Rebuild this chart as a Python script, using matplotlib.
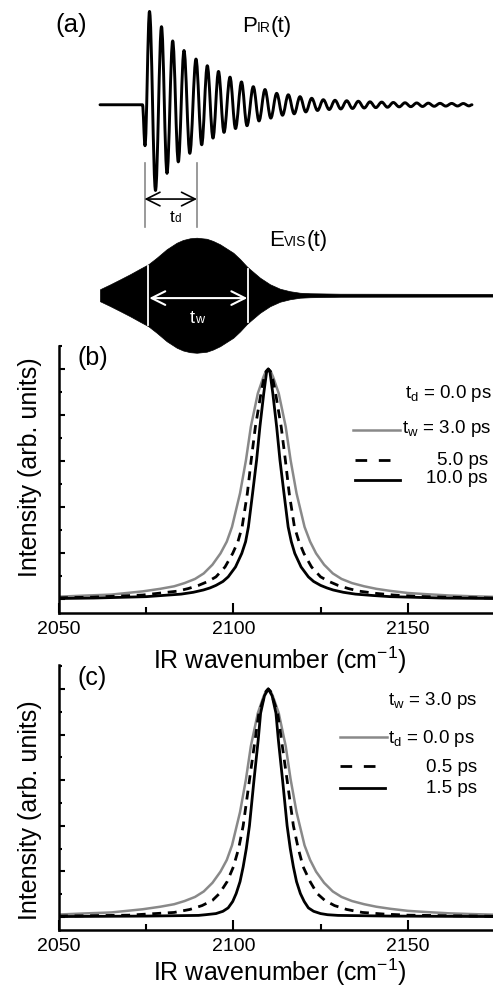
import numpy as np
import matplotlib
matplotlib.use('Agg')
import matplotlib.pyplot as plt
from matplotlib.ticker import MultipleLocator, FixedLocator
from matplotlib.lines import Line2D
from matplotlib.path import Path
from matplotlib.patches import PathPatch
from matplotlib.offsetbox import TextArea, HPacker, AnnotationBbox

plt.rcParams['font.family'] = ['Liberation Sans', 'DejaVu Sans']
plt.rcParams['mathtext.fontset'] = 'custom'
plt.rcParams['mathtext.rm'] = 'Liberation Sans'
plt.rcParams['mathtext.it'] = 'Liberation Sans:italic'

# ---- panel (a): schematic pulses (arbitrary time / amplitude units) ----
# IR free induction decay, read at its turning points
ir_t = [0.0, 4.25, 4.5, 4.95, 5.55, 6.15, 6.7, 7.27, 7.83, 8.4, 8.98, 9.6, 10.17,
        10.73, 11.3, 11.85, 12.4, 13.0, 13.55, 14.15, 14.7, 15.33, 15.9, 16.5,
        17.08, 17.67, 18.25, 18.83, 19.42, 20.0, 20.58, 21.17, 21.75, 22.33,
        22.92, 23.5, 24.08, 24.67, 25.25, 25.83, 26.42, 27.0, 27.58, 28.17,
        28.75, 29.33, 29.92, 30.5, 31.08, 31.67, 32.25, 32.83, 33.42, 34.0,
        34.58, 35.17, 35.75, 36.33, 36.9, 37.2]
ir_amp = [0.0, 0.0, -0.43, 0.98, -0.90, 0.82, -0.72, 0.67, -0.60, 0.57, -0.51, 0.48,
          -0.42, 0.41, -0.35, 0.35, -0.29, 0.29, -0.25, 0.24, -0.22, 0.19, -0.17,
          0.16, -0.14, 0.12, -0.11, 0.105, -0.095, 0.085, -0.075, 0.068, -0.06,
          0.053, -0.05, 0.047, -0.044, 0.042, -0.039, 0.037, -0.034, 0.031,
          -0.03, 0.028, -0.026, 0.024, -0.022, 0.021, -0.02, 0.019, -0.018,
          0.017, -0.016, 0.015, -0.014, 0.014, -0.013, 0.013, -0.012, 0.0]

# visible upconversion pulse envelope (half height)
vis_t = [0, 1, 2, 3, 4, 4.83, 5.67, 6.67, 7.67, 8.3, 9.0, 9.67, 10.67, 11.3, 12.0,
         13.33, 14.0, 14.67, 15.0, 16.0, 17.0, 18.0, 19.0, 20.0, 21.0, 24.0, 39.3]
vis_half = [0.063, 0.113, 0.166, 0.22, 0.278, 0.325, 0.394, 0.483, 0.551, 0.58,
            0.598, 0.604, 0.593, 0.57, 0.535, 0.446, 0.38, 0.304, 0.273, 0.184,
            0.115, 0.068, 0.042, 0.026, 0.021, 0.016, 0.014]
vis_center = -2.0

tw_mark_t = [4.83, 14.83]
tw_mark_half = [0.31, 0.28]
td_mark_t = [4.45, 9.7]

# ---- panel (b): t_d = 0.0 ps, varying t_w ----
wn_tw3 = [2050, 2058, 2065, 2074, 2079, 2083, 2086, 2089, 2091.5, 2094, 2096.3,
          2098.1, 2099.6, 2101.9, 2103.6, 2105.0, 2107.0, 2108.6, 2109.3, 2110,
          2110.7, 2111.4, 2113.0, 2115.0, 2116.4, 2118.1, 2120.4, 2122, 2123.7,
          2126, 2128.5, 2131, 2134, 2137.5, 2141, 2145, 2150, 2155, 2162, 2168, 2175]
int_tw3 = [0.011, 0.016, 0.02, 0.034, 0.045, 0.056, 0.07, 0.088, 0.112, 0.15,
           0.199, 0.25, 0.314, 0.46, 0.604, 0.749, 0.894, 0.965, 0.99, 1.0,
           0.99, 0.965, 0.894, 0.749, 0.604, 0.46, 0.314, 0.25, 0.199,
           0.15, 0.112, 0.088, 0.07, 0.056, 0.045, 0.036, 0.027, 0.022, 0.016,
           0.013, 0.01]

wn_tw5 = [2050, 2060, 2074, 2084, 2087, 2090, 2092.7, 2095, 2097.6, 2099.8, 2101.3,
          2102.5, 2104.0, 2105.1, 2106.3, 2107.9, 2108.9, 2109.4, 2110, 2110.6,
          2111.1, 2112.1, 2113.7, 2114.9, 2116.0, 2117.5, 2118.8, 2120.2, 2122.4,
          2125, 2127.4, 2130, 2133, 2136, 2141, 2146, 2153, 2160, 2175]
int_tw5 = [0.006, 0.009, 0.018, 0.035, 0.046, 0.06, 0.077, 0.097, 0.14, 0.199,
           0.25, 0.314, 0.46, 0.604, 0.749, 0.894, 0.97, 0.99, 1.0, 0.99, 0.97,
           0.894, 0.749, 0.604, 0.46, 0.314, 0.25, 0.199, 0.14, 0.097, 0.077,
           0.06, 0.046, 0.035, 0.025, 0.018, 0.012, 0.009, 0.005]

wn_tw10 = [2050, 2060, 2075, 2085, 2088.5, 2091.4, 2093.3, 2095, 2097, 2098.5,
           2100.6, 2102.4, 2103.5, 2104.3, 2105.5, 2106.65, 2107.6, 2108.7, 2109.5,
           2110, 2110.5, 2111.3, 2112.4, 2113.35, 2114.5, 2115.7, 2116.6, 2117.6,
           2119.4, 2121.5, 2123, 2125, 2126.8, 2128.6, 2131.5, 2135, 2140, 2145,
           2160, 2175]
int_tw10 = [0.003, 0.005, 0.011, 0.022, 0.03, 0.04, 0.049, 0.06, 0.077, 0.097,
            0.14, 0.199, 0.25, 0.314, 0.46, 0.604, 0.749, 0.894, 0.985, 1.0,
            0.985, 0.894, 0.749, 0.604, 0.46, 0.314, 0.25, 0.199, 0.14, 0.097,
            0.077, 0.06, 0.049, 0.04, 0.03, 0.022, 0.016, 0.011, 0.005, 0.003]

# ---- panel (c): t_w = 3.0 ps, varying t_d (t_d = 0.0 is the t_w = 3.0 curve) ----
wn_td05 = [2050, 2070, 2083, 2087.5, 2091, 2094, 2096, 2098.2, 2100, 2101.5,
           2102.8, 2104.6, 2106.2, 2107.3, 2108.8, 2109.4, 2110, 2110.6, 2111.2,
           2112.7, 2113.8, 2115.4, 2117.2, 2118.6, 2120, 2122, 2124, 2126.2,
           2129, 2132.5, 2137, 2143, 2150, 2175]
int_td05 = [0.004, 0.008, 0.02, 0.033, 0.05, 0.073, 0.103, 0.155, 0.22, 0.3, 0.4,
            0.6, 0.775, 0.894, 0.965, 0.99, 1.0, 0.99, 0.965, 0.894, 0.775, 0.6,
            0.4, 0.3, 0.22, 0.155, 0.103, 0.073, 0.05, 0.033, 0.02, 0.013,
            0.008, 0.003]

wn_td15 = [2050, 2075, 2090, 2092, 2095, 2097, 2098.5, 2099.8, 2100.8, 2101.9,
           2102.8, 2103.7, 2104.6, 2105.9, 2107.1, 2107.8, 2108.9, 2110, 2111.1,
           2112.2, 2112.9, 2114.1, 2115.4, 2116.3, 2117.2, 2118.1, 2119.2, 2120.3,
           2121.5, 2123, 2125, 2127, 2130, 2145, 2175]
int_td15 = [0.002, 0.004, 0.007, 0.01, 0.015, 0.025, 0.04, 0.068, 0.103, 0.155,
            0.22, 0.3, 0.4, 0.6, 0.775, 0.894, 0.97, 1.0, 0.97, 0.894, 0.775,
            0.6, 0.4, 0.3, 0.22, 0.155, 0.103, 0.068, 0.04, 0.025, 0.015, 0.01,
            0.007, 0.004, 0.002]

xticks_major = [2050, 2100, 2150]
xticks_minor = [2075, 2125]

GRAY = '#898989'
W, H = 493, 988
fig = plt.figure(figsize=(W / 100, H / 100), dpi=100)


def fx(px):
    return px / W


def fy(py):
    return 1 - py / H


def rich(ax, x, y, parts, color='black', align=(0, 0.5)):
    boxes = [TextArea(s, textprops=dict(fontsize=fs, color=color)) for s, fs in parts]
    pack = HPacker(children=boxes, align='baseline', pad=0, sep=0)
    ab = AnnotationBbox(pack, (x, y), xycoords='data', frameon=False,
                        box_alignment=align, pad=0, annotation_clip=False)
    ax.add_artist(ab)


def smooth_path(ts, ys):
    # turning points joined by cubic Beziers with flat tangents at each point
    verts = [(ts[0], ys[0])]
    codes = [Path.MOVETO]
    for i in range(1, len(ts)):
        k = 0.36 * (ts[i] - ts[i - 1])
        verts += [(ts[i - 1] + k, ys[i - 1]), (ts[i] - k, ys[i]), (ts[i], ys[i])]
        codes += [Path.CURVE4] * 3
    return Path(verts, codes)


# panel (a)
ax_a = fig.add_axes([0, fy(360), 1, fy(0) - fy(360)])
ax_a.set_xlim(-10, 39.3)
ax_a.set_ylim(-2.68, 1.10)
ax_a.axis('off')

ax_a.add_patch(PathPatch(smooth_path(ir_t, ir_amp), fill=False, edgecolor='black',
                         lw=2.1, joinstyle='round', capstyle='round'))
vt = np.array(vis_t)
vh = np.array(vis_half)
ax_a.fill_between(vt, vis_center - vh, vis_center + vh, color='black', lw=0.5)

for t, h in zip(tw_mark_t, tw_mark_half):
    ax_a.plot([t, t], [vis_center - h, vis_center + h], color='white', lw=1.3)
ax_a.annotate('', xy=(tw_mark_t[0] + 0.1, vis_center - 0.03),
              xytext=(tw_mark_t[1] - 0.1, vis_center - 0.03),
              arrowprops=dict(arrowstyle='<->,head_length=0.7,head_width=0.35',
                              color='white', lw=1.5, shrinkA=0, shrinkB=0,
                              mutation_scale=14))
rich(ax_a, 9.7, -2.24, [('t', 13), ('w', 9)], color='white', align=(0.5, 0.5))

for t in td_mark_t:
    ax_a.plot([t, t], [-1.28, -0.61], color=GRAY, lw=1.2)
ax_a.annotate('', xy=(td_mark_t[0], -0.99), xytext=(td_mark_t[1], -0.99),
              arrowprops=dict(arrowstyle='<->,head_length=0.7,head_width=0.35',
                              color='black', lw=1.2, shrinkA=0, shrinkB=0,
                              mutation_scale=14))
rich(ax_a, 7.5, -1.18, [('t', 12.5), ('d', 8.5)], align=(0.5, 0.5))

rich(ax_a, 14.2, 0.82, [('P', 16), ('IR', 10), ('(t)', 16)])
rich(ax_a, 16.9, -1.43, [('E', 16), ('VIS', 10), ('(t)', 16)])
fig.text(fx(71.5), fy(25), '(a)', fontsize=18.5, ha='center', va='center')


def spectrum_axes(top_px, bottom_px, ylim):
    ax = fig.add_axes([fx(59), fy(bottom_px), 436 / W, fy(top_px) - fy(bottom_px)])
    ax.set_facecolor('none')
    ax.set_xlim(2050, 2175)
    ax.set_ylim(*ylim)
    for s in ('top', 'right'):
        ax.spines[s].set_visible(False)
    for s in ('left', 'bottom'):
        ax.spines[s].set_linewidth(1.8)
    ax.xaxis.set_major_locator(FixedLocator(xticks_major))
    ax.xaxis.set_minor_locator(FixedLocator(xticks_minor))
    ax.yaxis.set_major_locator(MultipleLocator(0.2))
    ax.yaxis.set_minor_locator(MultipleLocator(0.1))
    ax.tick_params(axis='x', which='major', direction='in', length=7, width=1.5,
                   labelsize=14, pad=6)
    ax.tick_params(axis='x', which='minor', direction='in', length=4.5, width=1.5)
    ax.tick_params(axis='y', which='major', direction='in', length=4.5, width=1.5,
                   labelleft=False)
    ax.tick_params(axis='y', which='minor', direction='in', length=2.5, width=1.5)
    ax.set_ylabel('Intensity (arb. units)', fontsize=18)
    ax.set_xlabel(r'IR wavenumber (cm$^{\mathregular{-1}}$)', fontsize=18)
    return ax


# panel (b)
ax_b = spectrum_axes(346, 613, (-0.06, 1.1))
ax_b.plot(wn_tw3, int_tw3, color=GRAY, lw=1.8)
ax_b.plot(wn_tw5, int_tw5, color='black', lw=2.0, dashes=(3.2, 2.4))
ax_b.plot(wn_tw10, int_tw10, color='black', lw=2.0)
ax_b.yaxis.set_label_coords(-0.039, 0.545)
ax_b.xaxis.set_label_coords(0.507, -0.12)
fig.text(fx(93), fy(357.5), '(b)', fontsize=18, ha='center', va='center')

fig.text(fx(492), fy(398.3), r'$\mathregular{t_d}$ = 0.0 ps', fontsize=13.5,
         ha='right', va='baseline')
fig.text(fx(401.7), fy(433.3), r'$\mathregular{t_w}$ = 3.0 ps', fontsize=13.5,
         ha='left', va='baseline')
fig.text(fx(488), fy(465), '5.0 ps', fontsize=13.5, ha='right', va='baseline')
fig.text(fx(488), fy(483.3), '10.0 ps', fontsize=13.5, ha='right', va='baseline')
fig.add_artist(Line2D([fx(353), fx(400)], [fy(430)] * 2, color=GRAY, lw=1.8))
fig.add_artist(Line2D([fx(355), fx(390)], [fy(460)] * 2, color='black', lw=2.0,
                      dashes=(4.2, 4.2)))
fig.add_artist(Line2D([fx(355), fx(400)], [fy(480)] * 2, color='black', lw=2.0))

# panel (c)
ax_c = spectrum_axes(665, 930, (-0.057, 1.105))
ax_c.plot(wn_tw3, int_tw3, color=GRAY, lw=1.8)
ax_c.plot(wn_td05, int_td05, color='black', lw=2.0, dashes=(3.2, 2.4))
ax_c.plot(wn_td15, int_td15, color='black', lw=2.0)
ax_c.yaxis.set_label_coords(-0.039, 0.453)
ax_c.xaxis.set_label_coords(0.507, -0.10)
fig.text(fx(92), fy(677.5), '(c)', fontsize=18, ha='center', va='center')

fig.text(fx(476.7), fy(705), r'$\mathregular{t_w}$ = 3.0 ps', fontsize=13.5,
         ha='right', va='baseline')
fig.text(fx(388.3), fy(743.3), r'$\mathregular{t_d}$ = 0.0 ps', fontsize=13.5,
         ha='left', va='baseline')
fig.text(fx(476.7), fy(771.7), '0.5 ps', fontsize=13.5, ha='right', va='baseline')
fig.text(fx(476.7), fy(793), '1.5 ps', fontsize=13.5, ha='right', va='baseline')
fig.add_artist(Line2D([fx(340), fx(386.7)], [fy(736.7)] * 2, color=GRAY, lw=1.8))
fig.add_artist(Line2D([fx(340), fx(375)], [fy(766)] * 2, color='black', lw=2.0,
                      dashes=(4.2, 4.2)))
fig.add_artist(Line2D([fx(340), fx(385)], [fy(788.3)] * 2, color='black', lw=2.0))

fig.savefig('out.png', dpi=100)
